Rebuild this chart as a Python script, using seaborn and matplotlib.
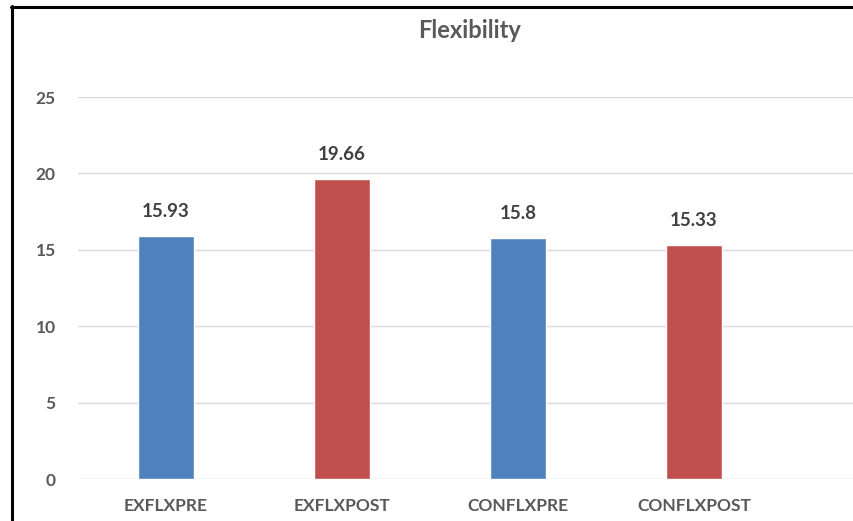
import matplotlib
matplotlib.use("Agg")
import matplotlib.pyplot as plt
import seaborn as sns
import pandas as pd
from matplotlib.lines import Line2D

# Flexibility scores by group
categories = ["EXFLXPRE", "EXFLXPOST", "CONFLXPRE", "CONFLXPOST"]
values = [15.93, 19.66, 15.8, 15.33]
bar_colors = ["#4F81BD", "#C0504D", "#4F81BD", "#C0504D"]
y_ticks = [0, 5, 10, 15, 20, 25]

df = pd.DataFrame({"group": categories, "score": values})

sns.set_theme(style="white")
plt.rcParams["font.family"] = ["Lato", "DejaVu Sans"]

W, H = 854, 521
fig = plt.figure(figsize=(W / 100, H / 100), dpi=100)
fig.patch.set_facecolor("white")

ax_left = 78 / W
ax_bottom = 1 - 479 / H
ax_height = (479 - 97) / H
ax = fig.add_axes([ax_left, ax_bottom, 1 - ax_left, ax_height])

sns.barplot(data=df, x="group", y="score", hue="group", palette=bar_colors,
            width=0.32, legend=False, ax=ax, saturation=1, zorder=3)

ax.set_ylim(0, 25)
ax.set_xlim(-0.5, (854 - 166) / 176)
ax.set_yticks(y_ticks)
ax.yaxis.grid(True, color="#D9D9D9", linewidth=1, zorder=0)
ax.xaxis.grid(False)
for s in ax.spines.values():
    s.set_visible(False)
ax.set_xlabel("")
ax.set_ylabel("")
ax.tick_params(axis="both", length=0)
ax.tick_params(axis="y", pad=16)
ax.tick_params(axis="x", pad=14)
for lbl in ax.get_yticklabels():
    lbl.set_fontsize(12.5)
    lbl.set_fontweight("bold")
    lbl.set_color("#595959")
for lbl in ax.get_xticklabels():
    lbl.set_fontsize(12.5)
    lbl.set_fontweight("bold")
    lbl.set_color("#595959")

for i, v in enumerate(values):
    ax.annotate(f"{v:g}", xy=(i, v), xytext=(0, 11), textcoords="offset points",
                ha="center", va="bottom", fontsize=13.5, fontweight="bold",
                color="#404040", clip_on=False)

fig.text(470 / W, 1 - 30 / H, "Flexibility", ha="center", va="center",
         fontsize=17, fontweight="bold", color="#595959")

# Chart frame edges
fig.add_artist(Line2D([12 / W, 12 / W], [0, 1 - 6 / H], color="black",
                      linewidth=2.2, transform=fig.transFigure))
fig.add_artist(Line2D([11 / W, 1], [1 - 7 / H, 1 - 7 / H], color="black",
                      linewidth=2.2, transform=fig.transFigure))

fig.savefig("out.png", dpi=100)
